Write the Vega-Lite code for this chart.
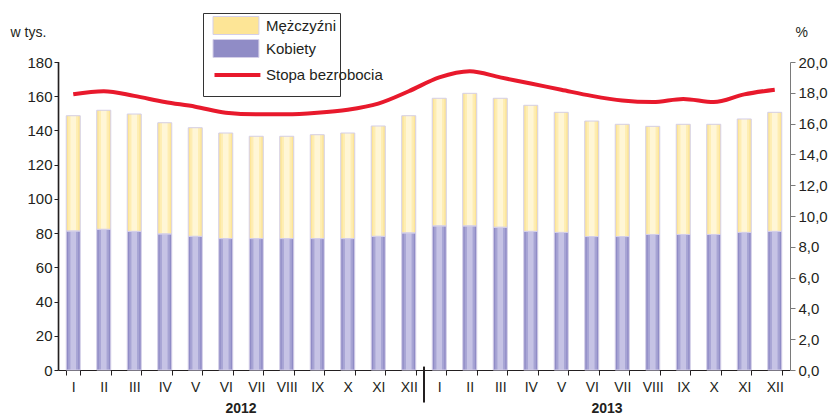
{
  "$schema": "https://vega.github.io/schema/vega-lite/v6.json",
  "width": 732,
  "height": 308,
  "autosize": {"type": "none"},
  "padding": {"left": 58, "top": 62, "right": 42, "bottom": 46},
  "background": "white",
  "config": {
    "view": {"stroke": null},
    "font": "Liberation Sans",
    "axis": {"grid": false, "labelFont": "Liberation Sans", "titleFont": "Liberation Sans", "labelColor": "#231f20", "titleColor": "#231f20", "labelOverlap": false},
    "axisLeft": {"domain": true, "domainColor": "#231f20", "domainWidth": 1.2, "domainOpacity": 1},
    "legend": {"labelFont": "Liberation Sans", "labelFontSize": 15, "labelColor": "#231f20"}
  },
  "datasets": {
    "bars": [
      {"m": "2012-I", "g": "Kobiety", "v": 81.2}, {"m": "2012-I", "g": "Mężczyźni", "v": 67.4},
      {"m": "2012-II", "g": "Kobiety", "v": 82.2}, {"m": "2012-II", "g": "Mężczyźni", "v": 69.6},
      {"m": "2012-III", "g": "Kobiety", "v": 81.0}, {"m": "2012-III", "g": "Mężczyźni", "v": 68.6},
      {"m": "2012-IV", "g": "Kobiety", "v": 79.5}, {"m": "2012-IV", "g": "Mężczyźni", "v": 65.0},
      {"m": "2012-V", "g": "Kobiety", "v": 78.1}, {"m": "2012-V", "g": "Mężczyźni", "v": 63.5},
      {"m": "2012-VI", "g": "Kobiety", "v": 76.8}, {"m": "2012-VI", "g": "Mężczyźni", "v": 61.7},
      {"m": "2012-VII", "g": "Kobiety", "v": 76.8}, {"m": "2012-VII", "g": "Mężczyźni", "v": 59.8},
      {"m": "2012-VIII", "g": "Kobiety", "v": 76.8}, {"m": "2012-VIII", "g": "Mężczyźni", "v": 59.8},
      {"m": "2012-IX", "g": "Kobiety", "v": 76.8}, {"m": "2012-IX", "g": "Mężczyźni", "v": 60.7},
      {"m": "2012-X", "g": "Kobiety", "v": 76.8}, {"m": "2012-X", "g": "Mężczyźni", "v": 61.7},
      {"m": "2012-XI", "g": "Kobiety", "v": 78.1}, {"m": "2012-XI", "g": "Mężczyźni", "v": 64.5},
      {"m": "2012-XII", "g": "Kobiety", "v": 80.1}, {"m": "2012-XII", "g": "Mężczyźni", "v": 68.5},
      {"m": "2013-I", "g": "Kobiety", "v": 84.2}, {"m": "2013-I", "g": "Mężczyźni", "v": 74.6},
      {"m": "2013-II", "g": "Kobiety", "v": 84.2}, {"m": "2013-II", "g": "Mężczyźni", "v": 77.5},
      {"m": "2013-III", "g": "Kobiety", "v": 83.4}, {"m": "2013-III", "g": "Mężczyźni", "v": 75.4},
      {"m": "2013-IV", "g": "Kobiety", "v": 81.0}, {"m": "2013-IV", "g": "Mężczyźni", "v": 73.7},
      {"m": "2013-V", "g": "Kobiety", "v": 80.4}, {"m": "2013-V", "g": "Mężczyźni", "v": 70.2},
      {"m": "2013-VI", "g": "Kobiety", "v": 78.0}, {"m": "2013-VI", "g": "Mężczyźni", "v": 67.5},
      {"m": "2013-VII", "g": "Kobiety", "v": 78.0}, {"m": "2013-VII", "g": "Mężczyźni", "v": 65.6},
      {"m": "2013-VIII", "g": "Kobiety", "v": 79.2}, {"m": "2013-VIII", "g": "Mężczyźni", "v": 63.2},
      {"m": "2013-IX", "g": "Kobiety", "v": 79.2}, {"m": "2013-IX", "g": "Mężczyźni", "v": 64.4},
      {"m": "2013-X", "g": "Kobiety", "v": 79.2}, {"m": "2013-X", "g": "Mężczyźni", "v": 64.4},
      {"m": "2013-XI", "g": "Kobiety", "v": 80.4}, {"m": "2013-XI", "g": "Mężczyźni", "v": 66.3},
      {"m": "2013-XII", "g": "Kobiety", "v": 81.0}, {"m": "2013-XII", "g": "Mężczyźni", "v": 69.6}
    ],
    "rates": [
      {"m": "2012-I", "r": 17.9}, {"m": "2012-II", "r": 18.1}, {"m": "2012-III", "r": 17.8},
      {"m": "2012-IV", "r": 17.4}, {"m": "2012-V", "r": 17.1}, {"m": "2012-VI", "r": 16.7},
      {"m": "2012-VII", "r": 16.6}, {"m": "2012-VIII", "r": 16.6}, {"m": "2012-IX", "r": 16.7},
      {"m": "2012-X", "r": 16.9}, {"m": "2012-XI", "r": 17.3}, {"m": "2012-XII", "r": 18.1},
      {"m": "2013-I", "r": 19.0}, {"m": "2013-II", "r": 19.4}, {"m": "2013-III", "r": 19.0},
      {"m": "2013-IV", "r": 18.6}, {"m": "2013-V", "r": 18.2}, {"m": "2013-VI", "r": 17.8},
      {"m": "2013-VII", "r": 17.5}, {"m": "2013-VIII", "r": 17.4}, {"m": "2013-IX", "r": 17.6},
      {"m": "2013-X", "r": 17.4}, {"m": "2013-XI", "r": 17.9}, {"m": "2013-XII", "r": 18.2}
    ],
    "years": [
      {"m": "2012-VII", "year": "2012"},
      {"m": "2013-VII", "year": "2013"}
    ],
    "sep": [
      {"m": "2013-I"}
    ],
    "axisline": [
      {"m": "2012-I"}
    ]
  },
  "layer": [
    {
      "layer": [
        {
          "data": {"name": "bars"},
          "mark": {"type": "bar"},
          "encoding": {
            "x": {
              "field": "m", "type": "nominal", "sort": null,
              "scale": {"paddingInner": 0.54, "paddingOuter": 0.27},
              "axis": {
                "title": null, "labelAngle": 0, "labelExpr": "split(datum.value, '-')[1]",
                "labelFontSize": 14, "labelPadding": 5, "domainColor": "#231f20", "tickColor": "#231f20",
                "tickSize": 5, "tickBand": "extent"
              }
            },
            "y": {
              "field": "v", "type": "quantitative", "stack": "zero",
              "scale": {"domain": [0, 180], "nice": false},
              "axis": {
                "orient": "left", "values": [0, 20, 40, 60, 80, 100, 120, 140, 160, 180],
                "labelFontSize": 15, "labelPadding": 2, "tickSize": 4, "domain": true, "ticks": true,
                "domainColor": "#231f20", "tickColor": "#231f20",
                "title": "w tys.", "titleAngle": 0, "titleAlign": "left", "titleBaseline": "middle",
                "titleFontSize": 14, "titleFontWeight": "normal", "titleX": -48, "titleY": -30
              }
            },
            "order": {"field": "g", "sort": "ascending"},
            "fill": {
              "field": "g", "type": "nominal",
              "scale": {"domain": ["Mężczyźni", "Kobiety"], "range": ["#fde596", "#908cc6"]},
              "legend": {
                "orient": "none", "legendX": 145, "legendY": -49, "title": "x",
                "titleOrient": "bottom", "titleOpacity": 0, "titleFontSize": 16, "titlePadding": 17,
                "padding": 3, "strokeColor": "#333333", "fillColor": "white",
                "symbolSize": 324, "symbolOffset": 6.5, "labelOffset": 34.5, "rowPadding": 0,
                "symbolType": "M-1,-1H4.1V1H-1Z", "symbolStrokeColor": "#d4cfe8", "symbolStrokeWidth": 1
              }
            }
          }
        },
        {
          "data": {"name": "bars"},
          "mark": {"type": "bar", "width": {"band": 0.72}},
          "encoding": {
            "x": {"field": "m", "type": "nominal", "sort": null},
            "y": {
              "field": "v", "type": "quantitative", "stack": "zero",
              "axis": {
                "orient": "left", "values": [0, 20, 40, 60, 80, 100, 120, 140, 160, 180],
                "labelFontSize": 15, "labelPadding": 2, "tickSize": 4, "domain": true, "ticks": true,
                "domainColor": "#231f20", "tickColor": "#231f20",
                "title": "w tys.", "titleAngle": 0, "titleAlign": "left", "titleBaseline": "middle",
                "titleFontSize": 14, "titleFontWeight": "normal", "titleX": -48, "titleY": -30
              }
            },
            "detail": {"field": "g"},
            "order": {"field": "g", "sort": "ascending"},
            "fill": {"condition": {"test": "datum.g === 'Kobiety'", "value": "#a7a4d4"}, "value": "#feedb2"}
          }
        },
        {
          "data": {"name": "bars"},
          "mark": {"type": "bar", "width": {"band": 0.4}},
          "encoding": {
            "x": {"field": "m", "type": "nominal", "sort": null},
            "y": {
              "field": "v", "type": "quantitative", "stack": "zero",
              "axis": {
                "orient": "left", "values": [0, 20, 40, 60, 80, 100, 120, 140, 160, 180],
                "labelFontSize": 15, "labelPadding": 2, "tickSize": 4, "domain": true, "ticks": true,
                "domainColor": "#231f20", "tickColor": "#231f20",
                "title": "w tys.", "titleAngle": 0, "titleAlign": "left", "titleBaseline": "middle",
                "titleFontSize": 14, "titleFontWeight": "normal", "titleX": -48, "titleY": -30
              }
            },
            "detail": {"field": "g"},
            "order": {"field": "g", "sort": "ascending"},
            "fill": {"condition": {"test": "datum.g === 'Kobiety'", "value": "#c6c3e5"}, "value": "#fff6d6"}
          }
        },
        {
          "data": {"name": "bars"},
          "mark": {"type": "bar", "fillOpacity": 0, "stroke": "#d4cfe8", "strokeWidth": 1},
          "encoding": {
            "x": {"field": "m", "type": "nominal", "sort": null},
            "y": {
              "field": "v", "type": "quantitative", "stack": "zero",
              "axis": {
                "orient": "left", "values": [0, 20, 40, 60, 80, 100, 120, 140, 160, 180],
                "labelFontSize": 15, "labelPadding": 2, "tickSize": 4, "domain": true, "ticks": true,
                "domainColor": "#231f20", "tickColor": "#231f20",
                "title": "w tys.", "titleAngle": 0, "titleAlign": "left", "titleBaseline": "middle",
                "titleFontSize": 14, "titleFontWeight": "normal", "titleX": -48, "titleY": -30
              }
            },
            "detail": {"field": "g"},
            "order": {"field": "g", "sort": "ascending"}
          }
        },
        {
          "data": {"name": "years"},
          "mark": {"type": "text", "fontWeight": "bold", "fontSize": 14, "baseline": "middle", "align": "center", "color": "#231f20"},
          "encoding": {
            "x": {"field": "m", "type": "nominal", "sort": null, "bandPosition": -0.587},
            "y": {
              "datum": -22.5, "type": "quantitative",
              "axis": {
                "orient": "left", "values": [0, 20, 40, 60, 80, 100, 120, 140, 160, 180],
                "labelFontSize": 15, "labelPadding": 2, "tickSize": 4, "domain": true, "ticks": true,
                "domainColor": "#231f20", "tickColor": "#231f20",
                "title": "w tys.", "titleAngle": 0, "titleAlign": "left", "titleBaseline": "middle",
                "titleFontSize": 14, "titleFontWeight": "normal", "titleX": -48, "titleY": -30
              }
            },
            "text": {"field": "year"}
          }
        },
        {
          "data": {"name": "sep"},
          "mark": {"type": "rule", "color": "#231f20", "strokeWidth": 2},
          "encoding": {
            "x": {"field": "m", "type": "nominal", "sort": null, "bandPosition": -0.587},
            "y": {
              "datum": 2, "type": "quantitative",
              "axis": {
                "orient": "left", "values": [0, 20, 40, 60, 80, 100, 120, 140, 160, 180],
                "labelFontSize": 15, "labelPadding": 2, "tickSize": 4, "domain": true, "ticks": true,
                "domainColor": "#231f20", "tickColor": "#231f20",
                "title": "w tys.", "titleAngle": 0, "titleAlign": "left", "titleBaseline": "middle",
                "titleFontSize": 14, "titleFontWeight": "normal", "titleX": -48, "titleY": -30
              }
            },
            "y2": {"datum": -19}
          }
        },
        {
          "data": {"name": "axisline"},
          "mark": {"type": "rule", "color": "#231f20", "strokeWidth": 1.5},
          "encoding": {
            "x": {"field": "m", "type": "nominal", "sort": null, "bandPosition": -0.55},
            "y": {
              "datum": 0, "type": "quantitative",
              "axis": {
                "orient": "left", "values": [0, 20, 40, 60, 80, 100, 120, 140, 160, 180],
                "labelFontSize": 15, "labelPadding": 2, "tickSize": 4, "domain": true, "ticks": true,
                "domainColor": "#231f20", "tickColor": "#231f20",
                "title": "w tys.", "titleAngle": 0, "titleAlign": "left", "titleBaseline": "middle",
                "titleFontSize": 14, "titleFontWeight": "normal", "titleX": -48, "titleY": -30
              }
            },
            "y2": {"datum": 180}
          }
        }
      ]
    },
    {
      "data": {"name": "rates"},
      "mark": {"type": "line", "interpolate": "monotone", "strokeWidth": 4},
      "encoding": {
        "x": {"field": "m", "type": "nominal", "sort": null},
        "y": {
          "field": "r", "type": "quantitative",
          "scale": {"domain": [0, 20], "nice": false},
          "axis": {
            "orient": "right", "values": [0, 2, 4, 6, 8, 10, 12, 14, 16, 18, 20],
            "labelExpr": "replace(format(datum.value, '.1f'), '.', ',')",
            "labelFontSize": 15, "labelPadding": 3, "tickSize": 5,
            "domainColor": "#7a7a7a", "tickColor": "#7a7a7a",
            "title": "%", "titleAngle": 0, "titleAlign": "left", "titleBaseline": "middle",
            "titleFontSize": 14, "titleFontWeight": "normal", "titleX": 5, "titleY": -30
          }
        },
        "stroke": {
          "datum": "Stopa bezrobocia", "type": "nominal",
          "scale": {"domain": ["Stopa bezrobocia"], "range": ["#e8192c"]},
          "legend": {
            "orient": "none", "legendX": 145, "legendY": -1, "title": null,
            "padding": 3, "symbolSize": 324, "symbolOffset": 6.5, "labelOffset": 31.5,
            "symbolType": "M-1,0H4.1", "symbolStrokeWidth": 4
          }
        }
      }
    }
  ],
  "resolve": {"scale": {"y": "independent"}}
}
